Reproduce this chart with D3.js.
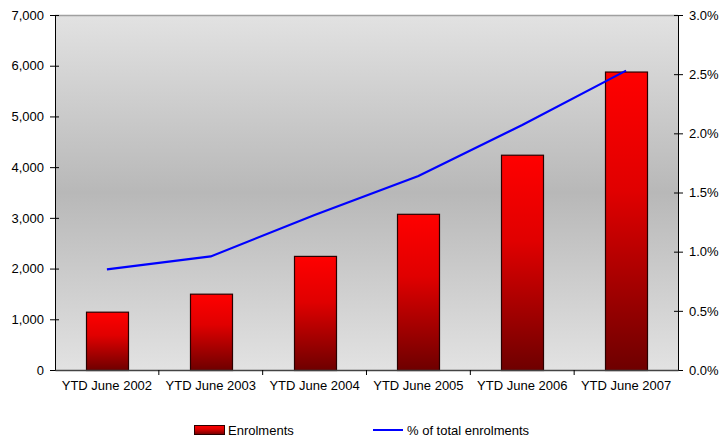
<!DOCTYPE html>
<html><head><meta charset="utf-8">
<script src="https://cdn.jsdelivr.net/npm/d3@7"></script>
<style>body{margin:0;background:#fff;}svg{display:block;font-family:"Liberation Sans",Arial,sans-serif;}</style>
</head><body>
<svg id="c" width="720" height="439"></svg>
<script>
const categories = ["YTD June 2002","YTD June 2003","YTD June 2004","YTD June 2005","YTD June 2006","YTD June 2007"];
const enrolments = [1150, 1505, 2250, 3080, 4245, 5885];
const pctTotal = [0.85, 0.96, 1.31, 1.64, 2.07, 2.53];
const leftTicks = [0,1000,2000,3000,4000,5000,6000,7000];
const rightTicks = [0,0.5,1.0,1.5,2.0,2.5,3.0];

const svg = d3.select("#c");
const L = 55, R = 678, T = 15, B = 370;
const x = d3.scaleBand().domain(categories).range([L, R]).paddingInner(0.595).paddingOuter(0.3);
const xc = d3.scaleBand().domain(categories).range([L, R]);
const y = d3.scaleLinear().domain([0, 7000]).range([B, T]);
const y2 = d3.scaleLinear().domain([0, 3]).range([B, T]);

const defs = svg.append("defs");
const bg = defs.append("linearGradient").attr("id","bg").attr("x1",0).attr("y1",0).attr("x2",0).attr("y2",1);
bg.append("stop").attr("offset","0%").attr("stop-color","#e2e2e2");
bg.append("stop").attr("offset","50%").attr("stop-color","#b8b8b8");
bg.append("stop").attr("offset","100%").attr("stop-color","#e2e2e2");
const bar = defs.append("linearGradient").attr("id","bar").attr("x1",0).attr("y1",0).attr("x2",0).attr("y2",1);
bar.append("stop").attr("offset","0%").attr("stop-color","#ff0000");
bar.append("stop").attr("offset","40%").attr("stop-color","#e00000");
bar.append("stop").attr("offset","100%").attr("stop-color","#6e0000");

svg.append("rect").attr("x",L).attr("y",T).attr("width",R-L).attr("height",B-T).attr("fill","url(#bg)");
svg.append("line").attr("x1",L).attr("x2",R).attr("y1",T+0.5).attr("y2",T+0.5).attr("stroke","#a0a0a0").attr("stroke-width",1.5);

svg.selectAll("rect.bar").data(enrolments).enter().append("rect").attr("class","bar")
  .attr("x",(d,i)=>Math.round(xc(categories[i]) + xc.bandwidth()/2 - 21)+0.5)
  .attr("width",42)
  .attr("y",d=>y(d)+0.5)
  .attr("height",d=>B-y(d))
  .attr("fill","url(#bar)").attr("stroke","#2a0000").attr("stroke-width",1.2);

const line = d3.line().x((d,i)=>xc(categories[i])+xc.bandwidth()/2).y(d=>y2(d));
svg.append("path").datum(pctTotal).attr("d",line).attr("fill","none").attr("stroke","#0000ff").attr("stroke-width",2.2);

// left axis
const la = svg.append("g").attr("transform",`translate(${L},0)`)
  .call(d3.axisLeft(y).tickValues(leftTicks).tickFormat(d3.format(",")).tickSizeInner(5).tickSizeOuter(0).tickPadding(6));
la.selectAll(".tick line").attr("x2",4).attr("x1",-5);
// right axis
const ra = svg.append("g").attr("transform",`translate(${R},0)`)
  .call(d3.axisRight(y2).tickValues(rightTicks).tickFormat(d=>d.toFixed(1)+"%").tickSizeInner(5).tickSizeOuter(0).tickPadding(6));
ra.selectAll(".tick line").attr("x1",-4).attr("x2",5);
// bottom axis
const ba = svg.append("g").attr("transform",`translate(0,${B})`)
  .call(d3.axisBottom(xc).tickSize(0).tickPadding(11));
ba.select(".domain").attr("stroke","#444").attr("stroke-width",1.3);
ba.selectAll(".tick").filter((d,i)=>i>0).append("line")
  .attr("x1",-xc.bandwidth()/2).attr("x2",-xc.bandwidth()/2).attr("y1",0).attr("y2",5).attr("stroke","#000");
[la,ra,ba].forEach(g=>{g.selectAll("text").attr("font-size",13).attr("fill","#000").attr("font-family","'Liberation Sans',Arial,sans-serif");
  g.selectAll(".tick line").attr("stroke","#000");});
la.select(".domain").attr("stroke","#000");
ra.select(".domain").attr("stroke","#000");

// legend
const lg = svg.append("g").attr("font-size",13);
lg.append("rect").attr("x",194.5).attr("y",425.5).attr("width",30).attr("height",9).attr("fill","url(#bar)").attr("stroke","#2a0000");
lg.append("text").attr("x",228).attr("y",435).text("Enrolments");
lg.append("line").attr("x1",373).attr("x2",403).attr("y1",430).attr("y2",430).attr("stroke","#0000ff").attr("stroke-width",2);
lg.append("text").attr("x",407).attr("y",435).text("% of total enrolments");
</script>
</body></html>
